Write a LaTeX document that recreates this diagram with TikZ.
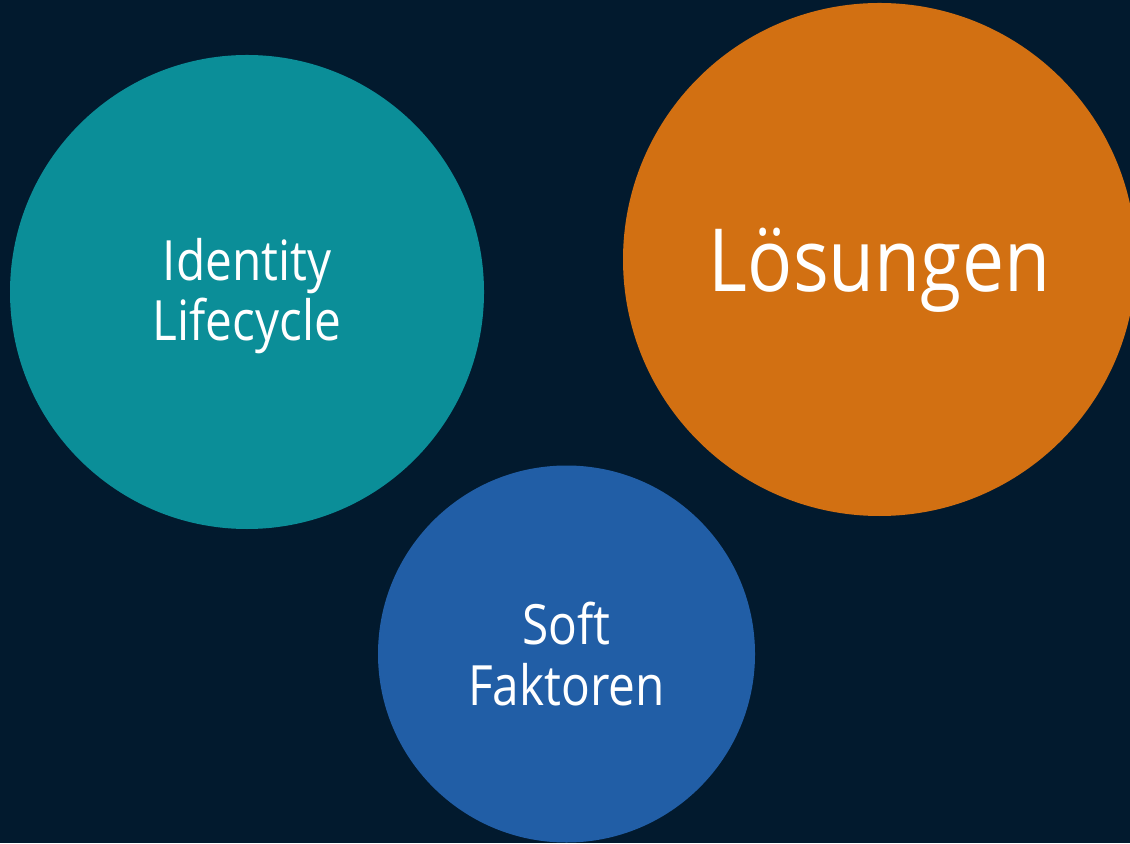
\documentclass[tikz,border=0pt]{standalone}
\usepackage{fontspec}
\setmainfont[FakeStretch=0.86]{Open Sans}
\definecolor{nightblue}{HTML}{021A2E}
\definecolor{tealfill}{HTML}{0B8E98}
\definecolor{orangefill}{HTML}{D27012}
\definecolor{bluefill}{HTML}{215EA6}
\tikzset{
  bubble/.style={circle,inner sep=0pt},
  bubbletext/.style={text=white,align=center,inner sep=0pt},
  smalltext/.style={font=\fontsize{15.8}{17.2}\selectfont},
  bigtext/.style={font=\fontsize{24.8}{28}\selectfont}
}
\begin{document}
\begin{tikzpicture}
            \useasboundingbox (0,0) rectangle (11.3,8.43);
            \clip (0,0) rectangle (11.3,8.43);
            \fill[nightblue] (0,0) rectangle (11.3,8.43);
            \node[bubble,fill=tealfill,minimum size=4.74cm] (identity) at (2.47,5.51) {};
            \node[bubble,fill=orangefill,minimum size=5.13cm] (solutions) at (8.795,5.835) {};
            \node[bubble,fill=bluefill,minimum size=3.77cm] (soft) at (5.665,1.89) {};
            \node[bubbletext,smalltext] (identitytext) at ([yshift=-0.04cm]identity.center) {Identity\\Lifecycle};
            \node[bubbletext,bigtext] (solutionstext) at ([yshift=-0.11cm]solutions.center) {Lösungen};
            \node[bubbletext,smalltext] (softtext) at (soft.center) {Soft\\Faktoren};
        \end{tikzpicture}
\end{document}
